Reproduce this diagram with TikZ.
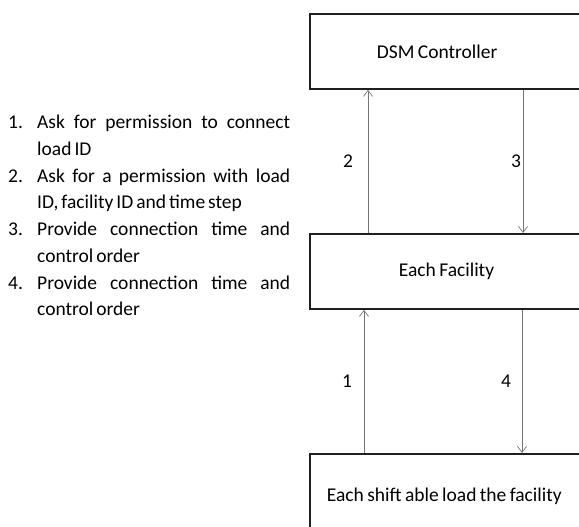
\documentclass[tikz,border=0pt]{standalone}
\usepackage{fontspec}
\setmainfont{Carlito}
\usetikzlibrary{arrows.meta}
\newcommand{\stepitem}[1]{\par\hangindent=29pt\hangafter=1\noindent\makebox[29pt][l]{#1}}
\newcommand{\diagfont}{\fontsize{19.5}{26.7}\selectfont\spaceskip=3pt plus 8pt minus 1pt\relax}
\newcommand{\tight}{\spaceskip=3.4pt\relax}
\tikzset{
	unit/.style={draw=black!88, line width=1.8pt, anchor=north west, minimum height=75pt, align=left},
	msg/.style={draw=black!55, line width=0.7pt, -{Straight Barb[length=6pt,width=9pt]}},
}
\begin{document}
\begin{tikzpicture}[x=1pt, y=-1pt, font=\diagfont]
		\useasboundingbox (0,0) rectangle (579,527);
		\node[unit, inner xsep=67pt, text width=157pt] (dsm) at (309,13) {\tight DSM Controller};
		\node[unit, inner xsep=89pt, text width=122pt] (fac) at (309,233) {\tight Each Facility};
		\node[unit, inner xsep=17pt, text width=266pt, minimum height=84pt] (load) at (309,453) {\tight Each shift able load the facility};
		\draw[msg] ([xshift=59pt]fac.north west) -- node[midway, xshift=-20pt] {2} ([xshift=59pt]dsm.south west);
		\draw[msg] ([xshift=214pt]dsm.south west) -- node[midway, xshift=-7pt] {3} ([xshift=214pt]fac.north west);
		\draw[msg] ([xshift=55pt]load.north west) -- node[midway, xshift=-17pt] {1} ([xshift=55pt]fac.south west);
		\draw[msg] ([xshift=213pt]fac.south west) -- node[midway, xshift=-16pt] {4} ([xshift=213pt]load.north west);
		\node[anchor=north west, inner sep=0pt, text width=282pt, align=justify] (steps) at (8,102) {%
			\stepitem{1.}Ask for permission to connect load ID
			\stepitem{2.}Ask for a permission with load\linebreak ID, facility ID and time step
			\stepitem{3.}Provide connection time and control order
			\stepitem{4.}Provide connection time and control order\par};
\end{tikzpicture}
\end{document}
